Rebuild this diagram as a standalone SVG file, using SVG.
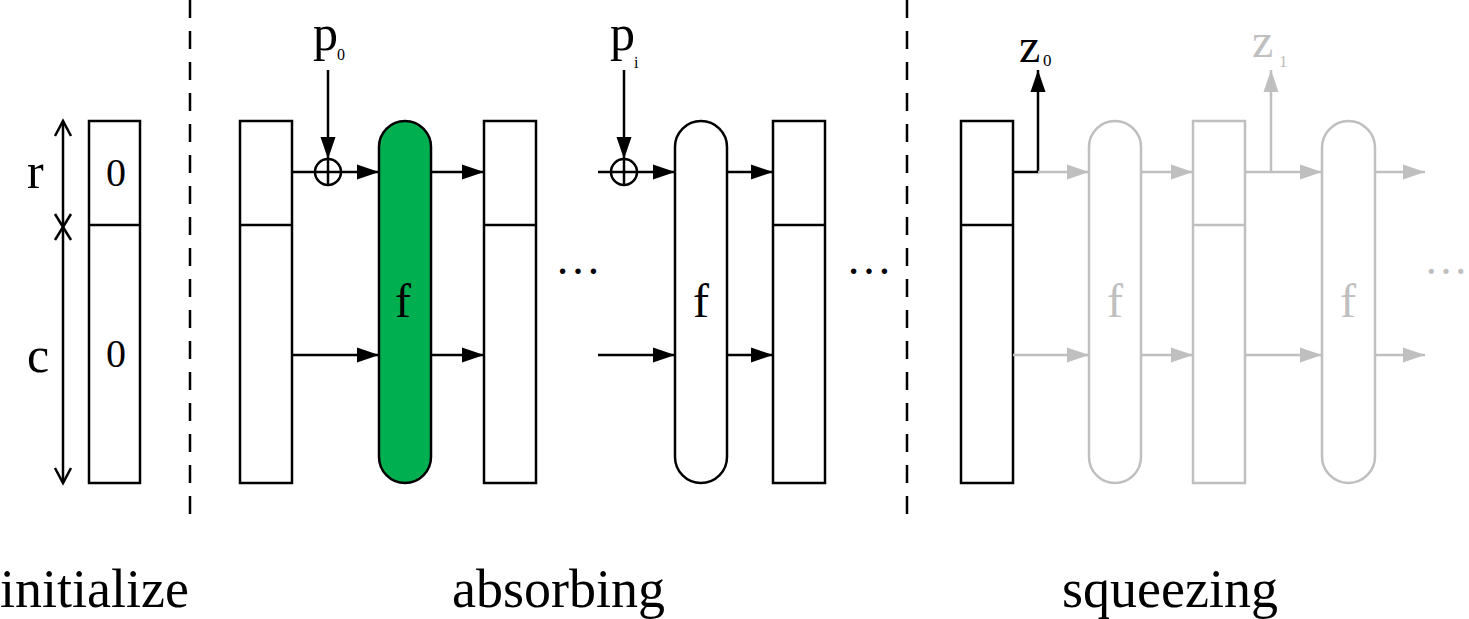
<svg xmlns="http://www.w3.org/2000/svg" width="1469" height="619" viewBox="0 0 1469 619">
<style>
.t{font-family:"Liberation Serif","Times New Roman",serif;fill:#000}
.g{fill:#bfbfbf}
.box{fill:#fff;stroke:#000;stroke-width:2.5}
.gbox{fill:#fff;stroke:#bfbfbf;stroke-width:2.5}
.ln{fill:none;stroke:#000;stroke-width:2.5}
.gln{fill:none;stroke:#bfbfbf;stroke-width:2.5}
.dash{fill:none;stroke:#000;stroke-width:2.5;stroke-dasharray:18 13}
</style>
<defs>
<marker id="ah" markerUnits="userSpaceOnUse" markerWidth="24" markerHeight="16" refX="22" refY="7.5" orient="auto" overflow="visible"><path d="M0,0 L22,7.5 L0,15 z" fill="#000"/></marker>
<marker id="gah" markerUnits="userSpaceOnUse" markerWidth="24" markerHeight="16" refX="22" refY="7.5" orient="auto" overflow="visible"><path d="M0,0 L22,7.5 L0,15 z" fill="#bfbfbf"/></marker>
</defs>

<g id="dividers">
<line class="dash" x1="190" y1="0" x2="190" y2="526"/>
<line class="dash" x1="907" y1="0" x2="907" y2="526"/>
</g>

<g id="dimension">
<line class="ln" x1="63" y1="121" x2="63" y2="483"/>
<polyline class="ln" points="55,136 63,121 71,136"/>
<polyline class="ln" points="55,468 63,483 71,468"/>
<line class="ln" x1="55" y1="214" x2="71" y2="240"/>
<line class="ln" x1="71" y1="214" x2="55" y2="240"/>
<text class="t" x="27" y="188" font-size="50">r</text>
<text class="t" x="27" y="372" font-size="50">c</text>
</g>

<g id="init-state">
<rect class="box" x="89" y="121" width="51" height="362"/>
<line class="ln" x1="89" y1="225" x2="140" y2="225"/>
<text class="t" x="116" y="186" font-size="40" text-anchor="middle">0</text>
<text class="t" x="116" y="367" font-size="40" text-anchor="middle">0</text>
</g>

<g id="abs-state-1">
<rect class="box" x="240" y="121" width="52" height="362"/>
<line class="ln" x1="240" y1="225" x2="292" y2="225"/>
</g>
<g id="xor-1">
<circle class="ln" cx="328" cy="172" r="13"/>
<line class="ln" x1="328" y1="159" x2="328" y2="185"/>
</g>
<g id="f-green">
<rect x="379" y="121" width="52" height="362" rx="26" fill="#00b050" stroke="#000" stroke-width="2.5"/>
<text class="t" x="403" y="317" font-size="48" text-anchor="middle">f</text>
</g>
<g id="abs-state-2">
<rect class="box" x="484" y="121" width="52" height="362"/>
<line class="ln" x1="484" y1="225" x2="536" y2="225"/>
</g>
<g id="xor-i">
<circle class="ln" cx="624" cy="172" r="13"/>
<line class="ln" x1="624" y1="159" x2="624" y2="185"/>
</g>
<g id="f-white">
<rect class="box" x="675" y="121" width="52" height="362" rx="26"/>
<text class="t" x="701" y="317" font-size="48" text-anchor="middle">f</text>
</g>
<g id="abs-state-3">
<rect class="box" x="773" y="121" width="52" height="362"/>
<line class="ln" x1="773" y1="225" x2="825" y2="225"/>
</g>

<g id="sq-state-1">
<rect class="box" x="961" y="121" width="52" height="362"/>
<line class="ln" x1="961" y1="225" x2="1013" y2="225"/>
</g>
<g id="sq-f-1">
<rect class="gbox" x="1089" y="121" width="52" height="362" rx="26"/>
<text class="t g" x="1115" y="317" font-size="48" text-anchor="middle">f</text>
</g>
<g id="sq-state-2">
<rect class="gbox" x="1193" y="121" width="52" height="362"/>
<line class="gln" x1="1193" y1="225" x2="1245" y2="225"/>
</g>
<g id="sq-f-2">
<rect class="gbox" x="1322" y="121" width="53" height="362" rx="26.5"/>
<text class="t g" x="1348" y="317" font-size="48" text-anchor="middle">f</text>
</g>

<g id="connectors">
<line class="ln" x1="328" y1="70" x2="328" y2="159" marker-end="url(#ah)"/>
<line class="ln" x1="292" y1="172" x2="379" y2="172" marker-end="url(#ah)"/>
<line class="ln" x1="292" y1="355" x2="379" y2="355" marker-end="url(#ah)"/>
<line class="ln" x1="431" y1="172" x2="484" y2="172" marker-end="url(#ah)"/>
<line class="ln" x1="431" y1="355" x2="484" y2="355" marker-end="url(#ah)"/>
<line class="ln" x1="624" y1="70" x2="624" y2="159" marker-end="url(#ah)"/>
<line class="ln" x1="598" y1="172" x2="675" y2="172" marker-end="url(#ah)"/>
<line class="ln" x1="598" y1="355" x2="675" y2="355" marker-end="url(#ah)"/>
<line class="ln" x1="727" y1="172" x2="773" y2="172" marker-end="url(#ah)"/>
<line class="ln" x1="727" y1="355" x2="773" y2="355" marker-end="url(#ah)"/>
<polyline class="ln" points="1013,172 1038,172 1038,70" marker-end="url(#ah)"/>
<line class="gln" x1="1038" y1="172" x2="1089" y2="172" marker-end="url(#gah)"/>
<line class="gln" x1="1013" y1="355" x2="1089" y2="355" marker-end="url(#gah)"/>
<line class="gln" x1="1141" y1="172" x2="1193" y2="172" marker-end="url(#gah)"/>
<line class="gln" x1="1141" y1="355" x2="1193" y2="355" marker-end="url(#gah)"/>
<line class="gln" x1="1271" y1="172" x2="1271" y2="70" marker-end="url(#gah)"/>
<line class="gln" x1="1245" y1="172" x2="1322" y2="172" marker-end="url(#gah)"/>
<line class="gln" x1="1245" y1="355" x2="1322" y2="355" marker-end="url(#gah)"/>
<line class="gln" x1="1375" y1="172" x2="1425" y2="172" marker-end="url(#gah)"/>
<line class="gln" x1="1375" y1="355" x2="1425" y2="355" marker-end="url(#gah)"/>
</g>

<g id="labels">
<text class="t" x="313" y="50" font-size="50">p</text>
<text class="t" x="337" y="60" font-size="16">0</text>
<text class="t" x="610" y="50" font-size="50">p</text>
<text class="t" x="634" y="68" font-size="16">i</text>
<text class="t" x="1019" y="62" font-size="48">z</text>
<text class="t" x="1043" y="66" font-size="17">0</text>
<text class="t g" x="1252" y="57" font-size="48">z</text>
<text class="t g" x="1279" y="67" font-size="17">1</text>
<text class="t" x="578" y="274" font-size="46" text-anchor="middle">…</text>
<text class="t" x="869" y="274" font-size="46" text-anchor="middle">…</text>
<text class="t g" x="1446" y="274" font-size="44" text-anchor="middle">…</text>
<text class="t" x="0" y="607" font-size="54">initialize</text>
<text class="t" x="452" y="607" font-size="54">absorbing</text>
<text class="t" x="1062" y="607" font-size="54">squeezing</text>
</g>
</svg>
